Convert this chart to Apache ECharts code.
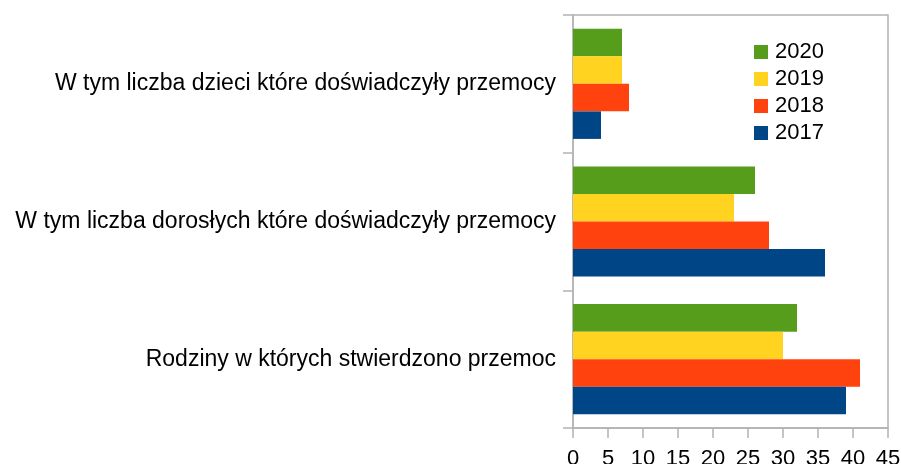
<!DOCTYPE html>
<html>
<head>
<meta charset="utf-8">
<script src="https://cdn.jsdelivr.net/npm/echarts@6/dist/echarts.min.js"></script>
<style>html,body{margin:0;padding:0;background:#fff;}#c{width:901px;height:464px;}</style>
</head>
<body>
<div id="c"></div>
<script>
const categories = [
  'W tym liczba dzieci które doświadczyły przemocy',
  'W tym liczba dorosłych które doświadczyły przemocy',
  'Rodziny w których stwierdzono przemoc'
];
const seriesNames = ['2020', '2019', '2018', '2017'];
const values2020 = [7, 26, 32];
const values2019 = [7, 23, 30];
const values2018 = [8, 28, 41];
const values2017 = [4, 36, 39];
const xTicks = { min: 0, max: 45, interval: 5 };
const colors = ['#579D1C', '#FFD320', '#FF420E', '#004586'];
const allValues = [values2020, values2019, values2018, values2017];

const chart = echarts.init(document.getElementById('c'));
const fontFamily = '"Liberation Sans", Arial, sans-serif';
chart.setOption({
  animation: false,
  textStyle: { fontFamily: fontFamily },
  grid: {
    left: 573, right: 13, top: 15, bottom: 36,
    containLabel: false, outerBoundsMode: 'none',
    show: true, borderColor: '#b3b3b3', borderWidth: 1.5, backgroundColor: 'transparent'
  },
  legend: {
    data: seriesNames,
    orient: 'vertical',
    left: 749, top: 36,
    itemWidth: 14, itemHeight: 14, itemGap: 5,
    icon: 'rect',
    textStyle: { fontSize: 22, color: '#000', fontFamily: fontFamily, lineHeight: 22, padding: [0, 0, 0, 2] }
  },
  xAxis: {
    type: 'value',
    min: xTicks.min, max: xTicks.max, interval: xTicks.interval,
    axisLine: { show: true, lineStyle: { color: '#b3b3b3', width: 1.5 } },
    axisTick: { show: true, length: 10, lineStyle: { color: '#b3b3b3', width: 1.5 } },
    axisLabel: { fontSize: 22, color: '#000', margin: 20, fontFamily: fontFamily },
    splitLine: { show: false }
  },
  yAxis: {
    type: 'category',
    inverse: true,
    data: categories,
    axisLine: { show: true, lineStyle: { color: '#b3b3b3', width: 1.5 } },
    axisTick: { show: true, length: 10, lineStyle: { color: '#b3b3b3', width: 1.5 } },
    axisLabel: { fontSize: 23, color: '#000', margin: 17, fontFamily: fontFamily, padding: [5, 0, 0, 0] }
  },
  series: seriesNames.map((name, i) => ({
    name: name,
    type: 'bar',
    data: allValues[i],
    barGap: 0,
    barCategoryGap: '20%',
    itemStyle: { color: colors[i] }
  }))
});
</script>
</body>
</html>
